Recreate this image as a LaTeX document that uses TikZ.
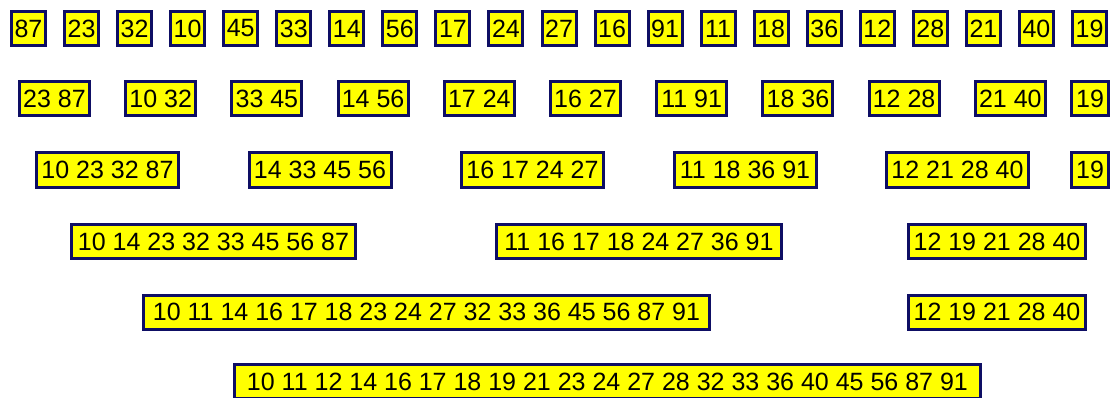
\documentclass[tikz,border=0pt]{standalone}
\usepackage{fontspec}
\setmainfont{Liberation Sans}
\definecolor{boxline}{RGB}{14,14,100}
\definecolor{boxfill}{RGB}{255,255,0}
\tikzset{
  numbox/.style={draw=boxline, fill=boxfill, line width=3pt, inner sep=0pt,
    minimum height=34pt, text=black, font=\fontsize{25}{25}\selectfont}
}
\begin{document}
\begin{tikzpicture}[x=1pt,y=-1pt]
\useasboundingbox[fill=white] (0,0) rectangle (1115,398);
% row 1
\foreach \t [count=\i from 0] in {87,23,32,10,45,33,14,56,17,24,27,16,91,11,18,36,12,28,21,40,19}
  \node[numbox, minimum width=34pt] (a\i) at ({28.5+53.05*\i},28.5) {\t};
% row 2
\foreach \t [count=\i from 0] in {{23 87},{10 32},{33 45},{14 56},{17 24},{16 27},{11 91},{18 36},{12 28},{21 40}}
  \node[numbox, minimum width=70pt] (b\i) at ({54.5+106.2*\i},99) {\t};
\node[numbox, minimum width=37pt] (b10) at (1090,99) {19};
% row 3
\foreach \t [count=\i from 0] in {{10 23 32 87},{14 33 45 56},{16 17 24 27},{11 18 36 91},{12 21 28 40}}
  \node[numbox, minimum width=142pt] (c\i) at ({107.5+212.5*\i},170) {\t};
\node[numbox, minimum width=37pt] (c5) at (1090,170) {19};
% row 4
\node[numbox, minimum width=284pt] (d0) at (213.5,241.5) {10 14 23 32 33 45 56 87};
\node[numbox, minimum width=285pt] (d1) at (639,241.5) {11 16 17 18 24 27 36 91};
\node[numbox, minimum width=177pt] (d2) at (997,241.5) {12 19 21 28 40};
% row 5
\node[numbox, minimum width=566pt] (e0) at (426.5,312) {10 11 14 16 17 18 23 24 27 32 33 36 45 56 87 91};
\node[numbox, minimum width=177pt] (e1) at (997,312) {12 19 21 28 40};
% row 6
\node[numbox, minimum width=746pt] (f0) at (607.5,381.5) {10 11 12 14 16 17 18 19 21 23 24 27 28 32 33 36 40 45 56 87 91};
\end{tikzpicture}
\end{document}
